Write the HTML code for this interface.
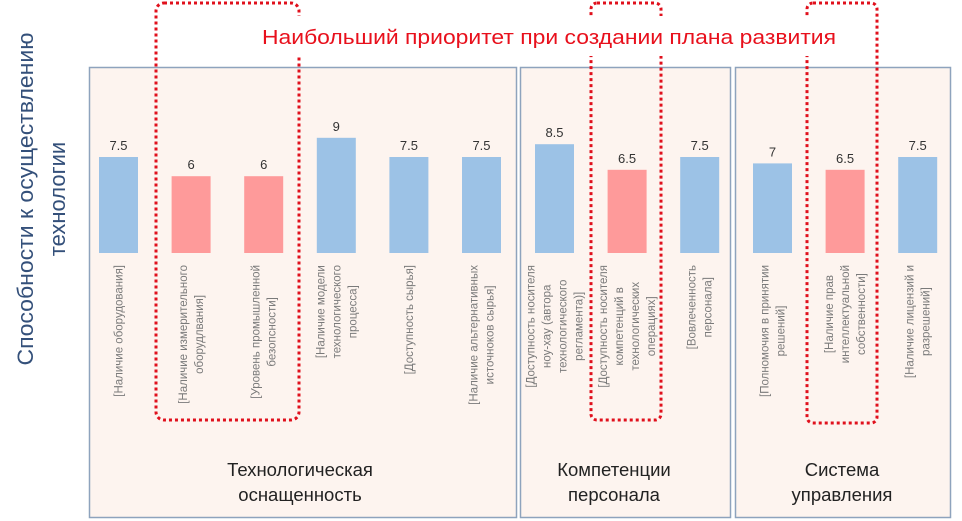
<!DOCTYPE html>
<html><head><meta charset="utf-8"><style>
html,body{margin:0;padding:0;background:#fff;}
svg{display:block;font-family:"Liberation Sans",sans-serif;}
</style></head><body>
<svg id="chart" width="962" height="521" viewBox="0 0 962 521">
  <g>
    <rect x="89.5" y="67.5" width="427" height="450" fill="#fdf4ef" stroke="#8ea3bd" stroke-width="1.5"/>
    <rect x="520.5" y="67.5" width="210" height="450" fill="#fdf4ef" stroke="#8ea3bd" stroke-width="1.5"/>
    <rect x="735.5" y="67.5" width="215" height="450" fill="#fdf4ef" stroke="#8ea3bd" stroke-width="1.5"/>
  </g>
  <g id="bars"></g>
  <g id="cats"></g>
  <g font-size="18.5" fill="#222" text-anchor="middle">
    <text x="300" y="476">Технологическая</text>
    <text x="300" y="501">оснащенность</text>
    <text x="614" y="476">Компетенции</text>
    <text x="614" y="501">персонала</text>
    <text x="842" y="476">Система</text>
    <text x="842" y="501">управления</text>
  </g>
  <g fill="none" stroke="#e0101c" stroke-width="3" stroke-dasharray="3,3">
    <rect x="156" y="3" width="143" height="417" rx="8"/>
    <rect x="591" y="3" width="70" height="417" rx="6"/>
    <rect x="807" y="3" width="70" height="420" rx="6"/>
  </g>
  <rect x="258" y="16" width="582" height="40" fill="#fff"/>
  <text x="262" y="44" font-size="20" fill="#e8101c" textLength="574" lengthAdjust="spacingAndGlyphs">Наибольший приоритет при создании плана развития</text>
  <g font-size="22" fill="#34507a" text-anchor="middle">
    <text transform="translate(33,199) rotate(-90)" textLength="333" lengthAdjust="spacingAndGlyphs">Способности к осуществлению</text>
    <text transform="translate(65,199) rotate(-90)">технологии</text>
  </g>
</svg>
<script>
const categories = [
  ["[Наличие оборудования]"],
  ["[Наличие измерительного","оборудлвания]"],
  ["[Уровень промышленной","безопсности]"],
  ["[Наличие модели","технологического","процесса]"],
  ["[Доступность сырья]"],
  ["[Наличие альтернативных","источноков сырья]"],
  ["[Доступность носителя","ноу-хау (автора","технологического","регламента)]"],
  ["[Доступность носителя","компетенций в","технологических","операциях]"],
  ["[Вовлеченность","персонала]"],
  ["[Полномочия в принятии","решений]"],
  ["[Наличие прав","интеллектуальной","собственности]"],
  ["[Наличие лицензий и","разрешений]"]
];
const values = [7.5, 6, 6, 9, 7.5, 7.5, 8.5, 6.5, 7.5, 7, 6.5, 7.5];
const valueLabels = ["7.5","6","6","9","7.5","7.5","8.5","6.5","7.5","7","6.5","7.5"];
const priority = [false,true,true,false,false,false,false,true,false,false,true,false];
const groups = [0,0,0,0,0,0,1,1,1,2,2,2];

const NS = "http://www.w3.org/2000/svg";
const baseY = 253, unit = 12.8, barW = 39;
const groupStart = [99, 535, 753];
const step = 72.6;
function xScale(i){
  const g = groups[i];
  const first = groups.indexOf(g);
  return groupStart[g] + (i - first) * step;
}
function yScale(v){ return baseY - v * unit; }

const barsG = document.getElementById('bars');
const catsG = document.getElementById('cats');
values.forEach((v, i) => {
  const x = xScale(i), y = yScale(v);
  const r = document.createElementNS(NS, 'rect');
  
  
  r.setAttribute('x', x); r.setAttribute('y', y);
  r.setAttribute('width', barW); r.setAttribute('height', baseY - y);
  r.setAttribute('fill', priority[i] ? '#fe9a9a' : '#9cc2e6');
  barsG.appendChild(r);
  const t = document.createElementNS(NS, 'text');
  
  
  t.setAttribute('x', x + barW/2); t.setAttribute('y', y - 7);
  t.setAttribute('text-anchor', 'middle'); t.setAttribute('font-size', '13');
  t.setAttribute('fill', '#333');
  t.textContent = valueLabels[i];
  barsG.appendChild(t);

  const lines = categories[i];
  const cx = x + barW/2;
  const g = document.createElementNS(NS, 'g');
  
  
  catsG.appendChild(g);
  const texts = [];
  lines.forEach((ln, k) => {
    const tt = document.createElementNS(NS, 'text');
    
    
    tt.setAttribute('font-size', '11.5');
    tt.setAttribute('fill', '#7a7a7a');
    tt.setAttribute('text-anchor', 'middle');
    tt.textContent = ln;
    g.appendChild(tt);
    texts.push(tt);
  });
  let maxLen = 0;
  texts.forEach(tt => { maxLen = Math.max(maxLen, tt.getComputedTextLength()); });
  const cy = 265 + maxLen/2;
  const n = lines.length, sp = 16;
  texts.forEach((tt, k) => {
    const lx = cx + (k - (n-1)/2) * sp + 4;
    tt.setAttribute('transform', 'translate(' + lx + ',' + cy + ') rotate(-90)');
  });
});
</script>
</body></html>
